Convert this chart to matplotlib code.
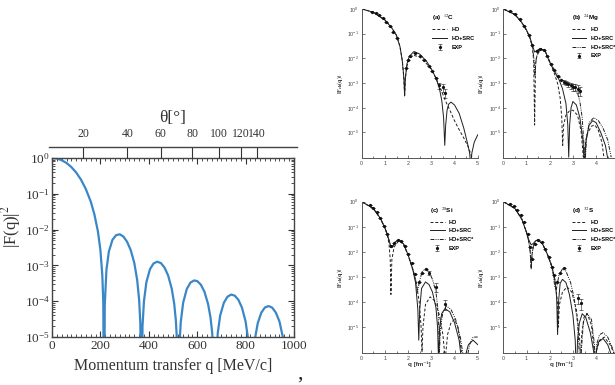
import matplotlib
matplotlib.use("Agg")
import matplotlib.pyplot as plt
from matplotlib.ticker import MultipleLocator, FixedLocator, LogLocator, NullFormatter, NullLocator

plt.rcParams['font.family'] = 'serif'
plt.rcParams['font.serif'] = ['Liberation Serif', 'DejaVu Serif']
plt.rcParams['mathtext.fontset'] = 'stix'

# ---- left panel: |F(q)|^2 vs momentum transfer (MeV/c) ----
q_mev = [0, 20, 40, 60, 80, 100, 120, 140, 160, 175, 190, 200, 208, 212, 215,
         218, 225, 235, 250, 265, 280, 295, 310, 325, 340, 352, 360, 365, 370,
         374, 380, 390, 405, 420, 435, 450, 465, 480, 495, 505, 512, 517, 522,
         526, 532, 542, 557, 572, 587, 600, 615, 630, 645, 655, 662, 668, 673,
         678, 685, 695, 710, 725, 740, 755, 770, 785, 800, 810, 824,
         840, 850, 865, 880, 895, 910, 925, 940, 955, 965]
f2 = [1.0, 0.966, 0.868, 0.725, 0.558, 0.392, 0.247, 0.135, 0.061, 0.027, 8.7e-3, 2.7e-3, 5.2e-4, 8.9e-5, 1e-8,
      7.8e-5, 7.6e-4, 2.44e-3, 5.2e-3, 7.0e-3, 7.4e-3, 6.4e-3, 4.6e-3, 2.7e-3, 1.18e-3, 3.9e-4, 1.1e-4, 2.5e-5, 1e-8,
      2.0e-5, 1.0e-4, 3.4e-4, 7.9e-4, 1.14e-3, 1.27e-3, 1.16e-3, 8.7e-4, 5.2e-4, 2.2e-4, 8.5e-5, 2.8e-5, 6.5e-6, 1e-8,
      4.8e-6, 2.6e-5, 9.1e-5, 2.2e-4, 3.3e-4, 3.8e-4, 3.65e-4, 2.9e-4, 1.84e-4, 8.3e-5, 3.5e-5, 1.3e-5, 2.7e-6, 1e-8,
      2.3e-6, 1.3e-5, 4.0e-5, 9.0e-5, 1.33e-4, 1.53e-4, 1.43e-4, 1.1e-4, 6.6e-5, 2.7e-5, 9.1e-6, 1e-8,
      1.0e-5, 2.4e-5, 4.8e-5, 6.7e-5, 7.3e-5, 6.6e-5, 4.8e-5, 2.7e-5, 9.2e-6, 2.2e-6]

theta_deg = [20, 40, 60, 80, 100, 120, 140]
theta_q = [129, 311, 449, 580, 689, 780, 846]

# ---- right panels: charge form factors (q in fm^-1) ----
c12_q_ho = [0, 0.5, 1.0, 1.3, 1.5, 1.65, 1.75, 1.82, 1.85, 1.88, 1.95, 2.05, 2.2, 2.5, 2.8, 3.0, 3.2, 3.4, 3.6, 3.8, 4.0, 4.2, 4.4, 4.6, 4.75]
c12_ho = [1, 0.74, 0.36, 0.17, 0.085, 0.03, 8e-3, 1.5e-3, 3e-4, 1.5e-3, 5e-3, 9e-3, 1.35e-2, 1.15e-2, 6e-3, 3.5e-3, 1.6e-3, 6e-4, 2e-4, 8e-5, 3e-5, 1.3e-5, 6e-6, 2.5e-6, 1e-6]
c12_q_src = [0, 0.5, 1.0, 1.3, 1.5, 1.65, 1.75, 1.82, 1.85, 1.88, 1.95, 2.05, 2.25, 2.5, 2.8, 3.0, 3.2, 3.35, 3.45, 3.53,
             3.58, 3.62, 3.68, 3.75, 3.85, 4.0, 4.2, 4.4, 4.55, 4.65, 4.7, 4.75, 4.85, 5.0]
c12_src = [1, 0.74, 0.36, 0.17, 0.085, 0.03, 8e-3, 1.5e-3, 3e-4, 1.5e-3, 6e-3, 1.2e-2, 1.9e-2, 1.5e-2, 7.5e-3, 3.8e-3, 1.6e-3, 6e-4, 2e-4, 4e-5,
           3e-6, 2e-5, 8e-5, 1.4e-4, 1.7e-4, 1.3e-4, 6e-5, 1.5e-5, 4e-6, 1.5e-6, 5e-7, 1.5e-6, 4e-6, 8e-6]
c12_exp_q = [0.45, 0.6, 0.75, 0.9, 1.05, 1.2, 1.35, 1.5, 1.9, 2.0, 2.1, 2.3, 2.5, 2.7, 2.9, 3.05, 3.2, 3.35, 3.5, 3.6]
c12_exp = [0.78, 0.66, 0.55, 0.42, 0.3, 0.2, 0.12, 0.07, 4e-3, 9e-3, 1.3e-2, 1.6e-2, 1.3e-2, 9e-3, 5e-3, 3e-3, 1.6e-3, 8e-4, 7e-4, 4e-4]
c12_err = [0, 0, 0, 0, 0, 0, 0, 0, 0, 0, 0, 0, 0, 0, 0, 0, 0, 2e-4, 2.5e-4, 1.5e-4]

mg_q_ho = [0, 0.5, 0.8, 1.0, 1.15, 1.25, 1.31, 1.35, 1.39, 1.45, 1.6, 1.8, 2.0, 2.2, 2.35, 2.45, 2.52, 2.56, 2.6, 2.7,
           2.85, 3.0, 3.2, 3.35, 3.45, 3.6, 3.8, 3.95, 4.1, 4.25, 4.35]
mg_ho = [1, 0.6, 0.28, 0.14, 0.065, 0.03, 8e-3, 2e-5, 6e-3, 1.3e-2, 2.3e-2, 2e-2, 7e-3, 2.5e-3, 9e-4, 2.5e-4, 4e-5, 3e-6, 2e-5, 5e-5,
         7.5e-5, 8e-5, 5e-5, 1.2e-5, 1e-6, 8e-6, 1.8e-5, 2e-5, 1.2e-5, 4e-6, 8e-7]
mg_q_src = [0, 0.5, 0.8, 1.0, 1.15, 1.25, 1.35, 1.45, 1.6, 1.8, 2.0, 2.2, 2.4, 2.55, 2.7, 2.78, 2.82, 2.86, 2.92, 3.0,
            3.15, 3.3, 3.43, 3.5, 3.57, 3.7, 3.85, 4.0, 4.2, 4.4, 4.55]
mg_src = [1, 0.6, 0.28, 0.14, 0.07, 0.035, 0.018, 0.021, 0.025, 0.02, 7e-3, 3e-3, 1.4e-3, 6e-4, 1.5e-4, 2e-5, 1e-6, 2e-5, 1e-4, 1.8e-4,
          1.3e-4, 4e-5, 5e-6, 5e-7, 5e-6, 2e-5, 3e-5, 2.5e-5, 1e-5, 3e-6, 5e-7]
mg_q_srcs = [0, 0.5, 0.8, 1.0, 1.15, 1.25, 1.32, 1.36, 1.42, 1.5, 1.65, 1.8, 2.0, 2.2, 2.4, 2.6, 2.8, 3.0, 3.2, 3.3,
             3.4, 3.47, 3.52, 3.58, 3.7, 3.9, 4.1, 4.3, 4.5, 4.65]
mg_srcs = [1, 0.6, 0.28, 0.14, 0.065, 0.03, 1e-2, 2e-3, 1e-2, 0.02, 0.025, 0.02, 7.5e-3, 3.5e-3, 1.8e-3, 1.2e-3, 9e-4, 8e-4, 4e-4, 1.8e-4,
           4e-5, 4e-6, 4e-7, 5e-6, 2.5e-5, 4e-5, 3e-5, 1.5e-5, 5e-6, 1e-6]
mg_exp_q = [0.3, 0.5, 0.7, 0.9, 1.1, 1.25, 1.45, 1.6, 1.75, 1.9, 2.05, 2.2, 2.35, 2.5, 2.6, 2.7, 2.8, 2.9, 3.0, 3.1, 3.2, 3.3]
mg_exp = [0.82, 0.6, 0.38, 0.2, 0.09, 0.035, 0.02, 0.024, 0.022, 0.013, 6e-3, 3.5e-3, 2e-3, 1.3e-3, 1.1e-3, 1e-3, 9e-4, 8e-4, 7e-4, 7e-4, 6e-4, 5e-4]
mg_err = [0, 0, 0, 0, 0, 0, 0, 0, 0, 0, 0, 0, 0, 0, 2e-4, 2e-4, 2e-4, 2e-4, 2e-4, 2e-4, 2e-4, 2e-4]

si_q_ho = [0, 0.5, 0.8, 1.0, 1.1, 1.18, 1.23, 1.26, 1.3, 1.4, 1.6, 1.8, 2.0, 2.2, 2.35, 2.48, 2.56, 2.6, 2.64, 2.75,
           2.95, 3.15, 3.35, 3.5, 3.6, 3.7, 3.85, 4.0, 4.15, 4.3]
si_ho = [1, 0.54, 0.22, 0.09, 0.05, 0.02, 5e-3, 2e-4, 5e-3, 0.016, 0.028, 0.02, 7.5e-3, 2e-3, 6e-4, 1e-4, 1e-5, 1e-6, 1e-5, 8e-5,
         1.6e-4, 1.1e-4, 3e-5, 5e-6, 5e-7, 5e-6, 1.5e-5, 2e-5, 1e-5, 1e-6]
si_q_src = [0, 0.5, 0.8, 1.0, 1.1, 1.2, 1.26, 1.32, 1.45, 1.6, 1.8, 2.0, 2.2, 2.32, 2.42, 2.46, 2.5, 2.58, 2.75, 2.9,
            3.05, 3.2, 3.27, 3.31, 3.36, 3.45, 3.6, 3.8, 4.0, 4.2, 4.3, 4.36, 4.42, 4.6, 4.8, 5.0]
si_src = [1, 0.54, 0.22, 0.09, 0.05, 0.025, 0.015, 0.016, 0.025, 0.03, 0.021, 7.5e-3, 2e-3, 6e-4, 5e-5, 3e-6, 5e-5, 3.5e-4, 6.3e-4, 5e-4,
          2.5e-4, 6e-5, 1e-5, 5e-7, 1e-5, 3.5e-5, 5.4e-5, 4e-5, 1.5e-5, 3e-6, 5e-7, 1e-7, 5e-7, 2e-6, 3e-6, 2e-6]
si_q_srcs = [0, 0.5, 0.8, 1.0, 1.1, 1.2, 1.26, 1.32, 1.45, 1.6, 1.8, 2.0, 2.2, 2.32, 2.4, 2.48, 2.6, 2.75, 2.9, 3.05,
             3.2, 3.3, 3.35, 3.4, 3.5, 3.65, 3.85, 4.05, 4.25, 4.4, 4.47, 4.53, 4.65, 4.8, 5.0]
si_srcs = [1, 0.54, 0.22, 0.09, 0.05, 0.025, 0.015, 0.016, 0.025, 0.03, 0.021, 7.5e-3, 2.2e-3, 8e-4, 2.5e-4, 6e-4, 1.6e-3, 2.1e-3, 1.6e-3, 8e-4,
           2.5e-4, 4e-5, 1e-6, 1e-5, 4e-5, 7e-5, 5e-5, 2e-5, 4e-6, 5e-7, 1e-7, 5e-7, 2e-6, 4e-6, 4e-6]
si_exp_q = [0.35, 0.5, 0.65, 0.8, 0.95, 1.1, 1.25, 1.4, 1.55, 1.7, 1.85, 2.0, 2.15, 2.3, 2.45, 2.6, 2.75, 2.9, 3.2, 3.6]
si_exp = [0.75, 0.55, 0.38, 0.22, 0.11, 0.05, 0.017, 0.022, 0.03, 0.027, 0.017, 8e-3, 3.5e-3, 1.3e-3, 6e-4, 1.4e-3, 2e-3, 1.5e-3, 4e-4, 8.5e-5]
si_err = [0, 0, 0, 0, 0, 0, 0, 0, 0, 0, 0, 0, 0, 0, 0, 0, 0, 3e-4, 1.5e-4, 3.5e-5]

s_q_ho = [0, 0.5, 0.8, 1.0, 1.1, 1.16, 1.2, 1.24, 1.3, 1.4, 1.5, 1.7, 1.9, 2.1, 2.25, 2.33, 2.37, 2.42, 2.55, 2.75,
          2.95, 3.15, 3.28, 3.33, 3.38, 3.48, 3.62, 3.8, 3.92, 3.96, 4.0, 4.15, 4.35, 4.6, 4.8]
s_ho = [1, 0.54, 0.2, 0.06, 0.025, 0.01, 2e-3, 8e-3, 0.018, 0.027, 0.03, 0.02, 8e-3, 2.5e-3, 6e-4, 1e-4, 1e-5, 8e-5, 2.5e-4, 4e-4,
        2.5e-4, 5e-5, 5e-6, 5e-7, 5e-6, 2.5e-5, 3.4e-5, 1.2e-5, 1e-6, 1e-7, 1e-6, 3e-6, 4e-6, 2e-6, 8e-7]
s_q_src = [0, 0.5, 0.8, 1.0, 1.1, 1.2, 1.3, 1.4, 1.5, 1.7, 1.9, 2.1, 2.22, 2.3, 2.34, 2.38, 2.45, 2.55, 2.7, 2.85,
           3.0, 3.1, 3.15, 3.2, 3.28, 3.4, 3.55, 3.75, 3.9, 3.95, 4.0, 4.1, 4.3, 4.5, 4.7, 4.9]
s_src = [1, 0.54, 0.2, 0.06, 0.03, 0.019, 0.022, 0.028, 0.03, 0.02, 8e-3, 2.5e-3, 8e-4, 1.5e-4, 5e-6, 1e-4, 5.5e-4, 8e-4, 6e-4, 2e-4,
         3e-5, 3e-6, 1e-7, 3e-6, 1.5e-5, 3.4e-5, 2.5e-5, 6e-6, 1e-6, 1e-7, 1e-6, 2.5e-6, 3.5e-6, 2e-6, 6e-7, 1e-7]
s_q_srcs = [0, 0.5, 0.8, 1.0, 1.1, 1.16, 1.2, 1.24, 1.3, 1.4, 1.5, 1.7, 1.9, 2.05, 2.15, 2.22, 2.28, 2.4, 2.55, 2.7,
            2.9, 3.05, 3.2, 3.27, 3.31, 3.36, 3.45, 3.6, 3.8, 3.93, 3.97, 4.02, 4.15, 4.3, 4.5, 4.7, 4.9]
s_srcs = [1, 0.54, 0.2, 0.06, 0.025, 0.01, 2.5e-3, 8e-3, 0.018, 0.027, 0.03, 0.02, 8e-3, 3.5e-3, 1.3e-3, 4e-4, 3e-4, 1.2e-3, 2.1e-3, 1.7e-3,
          6e-4, 1.5e-4, 1.5e-5, 1e-6, 1e-7, 1e-6, 1.5e-5, 3.5e-5, 2e-5, 2e-6, 1e-7, 2e-6, 5e-6, 6e-6, 4e-6, 1.5e-6, 4e-7]
s_exp_q = [0.3, 0.45, 0.6, 0.75, 0.9, 1.05, 1.15, 1.25, 1.35, 1.5, 1.65, 1.8, 1.95, 2.1, 2.2, 2.3, 2.45, 2.6, 3.2, 3.35]
s_exp = [0.83, 0.65, 0.46, 0.3, 0.15, 0.05, 0.015, 5e-3, 0.02, 0.03, 0.025, 0.013, 6e-3, 2.5e-3, 1.2e-3, 6e-4, 1.5e-3, 2.2e-3, 1.4e-4, 9e-5]
s_err = [0, 0, 0, 0, 0, 0, 0, 0, 0, 0, 0, 0, 0, 0, 0, 0, 0, 0, 6e-5, 4e-5]

W, H = 615, 385
fig = plt.figure(figsize=(W / 100, H / 100), dpi=100)

def frac(x0, y0, x1, y1):
    # pixel box -> figure fraction [left, bottom, width, height]
    return [x0 / W, 1 - y1 / H, (x1 - x0) / W, (y1 - y0) / H]

# main plot
ax = fig.add_axes(frac(52, 158, 294, 337))
ax.plot(q_mev, f2, color='#3a87c8', lw=1.6)
ax.set_yscale('log')
ax.set_xlim(0, 1000)
ax.set_ylim(1e-5, 1)
ax.xaxis.set_major_locator(MultipleLocator(200))
ax.xaxis.set_minor_locator(MultipleLocator(20))
ax.yaxis.set_major_locator(LogLocator(base=10, numticks=10))
ax.yaxis.set_minor_locator(LogLocator(base=10, subs=range(2, 10), numticks=20))
ax.yaxis.set_minor_formatter(NullFormatter())
ax.tick_params(which='both', direction='in', top=True, right=True, labelsize=9.5, colors='#333333')
ax.tick_params(which='major', length=4, width=0.8)
ax.tick_params(which='minor', length=2.2, width=0.6)
ax.tick_params(axis='x', pad=2.5)
ax.tick_params(axis='y', pad=1.5)
for s in ax.spines.values():
    s.set_color('#444444')
    s.set_linewidth(1.0)
ax.set_xlabel('Momentum transfer q [MeV/c]', fontsize=11.5, color='#333333', labelpad=4)
ax.set_ylabel('|F(q)|$^2$', fontsize=12, color='#333333')
ax.yaxis.set_label_coords(-0.118, 0.62)

# scattering-angle axis above the plot
axt = fig.add_axes(frac(49, 146.5, 297, 146.6))
axt.set_xlim(-12.4, 1012.4)
axt.patch.set_visible(False)
for side in ['top', 'left', 'right']:
    axt.spines[side].set_visible(False)
axt.spines['bottom'].set_color('#444444')
axt.spines['bottom'].set_linewidth(1.0)
axt.yaxis.set_visible(False)
axt.set_xticks(theta_q)
axt.set_xticklabels([str(t) for t in theta_deg])
axt.tick_params(axis='x', direction='out', length=8, width=0.8, bottom=True, top=True,
                labelbottom=False, labeltop=True, labelsize=8.5, pad=-3, colors='#333333')
for t in axt.xaxis.get_major_ticks():
    t.tick2line.set_visible(False)
axt.xaxis.set_label_position('top')
axt.set_xlabel('θ[°]', fontsize=12.5, color='#333333', labelpad=4)

fig.text(300 / W, 1 - 374 / H, ',', fontsize=16, color='#222222', ha='center', va='center')

# scanned comparison panels
ho_ls = (0, (3, 2))
srcs_ls = (0, (4, 1.2, 1, 1.2, 1, 1.2))
sans = ['Liberation Sans', 'DejaVu Sans']

def panel(box, tag, curves, eq, ev, eerr, xlabel, xmax_label):
    a = fig.add_axes(frac(*box))
    for q, v, ls, lab in curves:
        a.plot(q, v, color='#1e1e1e', lw=0.7, ls=ls, label=lab)
    a.errorbar(eq, ev, yerr=eerr, fmt='o', ms=1.3, color='#111111', elinewidth=0.4,
               capsize=1.2, capthick=0.4, label='EXP')
    a.set_yscale('log')
    a.set_xlim(0, 5)
    a.set_ylim(9e-7, 1)
    a.yaxis.set_major_locator(FixedLocator([1, 1e-1, 1e-2, 1e-3, 1e-4, 1e-5]))
    a.yaxis.set_minor_locator(NullLocator())
    a.yaxis.set_minor_formatter(NullFormatter())
    a.xaxis.set_major_locator(FixedLocator(list(range(0, xmax_label + 1))))
    a.xaxis.set_minor_locator(MultipleLocator(0.5))
    a.spines['top'].set_visible(False)
    a.spines['right'].set_visible(False)
    for s in ['left', 'bottom']:
        a.spines[s].set_color('#555555')
        a.spines[s].set_linewidth(0.7)
    a.tick_params(which='both', direction='in', labelsize=3.8, colors='#444444', pad=2)
    a.tick_params(which='major', length=2, width=0.5)
    a.tick_params(which='minor', length=1.5, width=0.5)
    for lbl in a.get_xticklabels() + a.get_yticklabels():
        lbl.set_family(sans)
    a.set_ylabel(r'$\mathbf{|F_{ch}(q)|}$', fontsize=4.4, labelpad=1.5, color='#333333')
    if xlabel:
        a.set_xlabel('q [fm⁻¹]', fontsize=4.5, family=sans, fontweight='bold', labelpad=0.5, color='#333333')
    leg = a.legend(loc='upper right', bbox_to_anchor=(1.0, 1.0), frameon=False, title=tag,
                   prop={'family': sans, 'size': 4, 'weight': 'bold'}, handlelength=2.6,
                   labelspacing=0.7, borderaxespad=0.2, alignment='left')
    leg.get_title().set_fontsize(4.5)
    leg.get_title().set_family(sans)
    leg.get_title().set_fontweight('bold')
    return a

panel((361.7, 9, 477.7, 158.3), '(a)  $^{12}$C',
      [(c12_q_ho, c12_ho, ho_ls, 'HO'), (c12_q_src, c12_src, '-', 'HO+SRC')],
      c12_exp_q, c12_exp, c12_err, False, 5)
panel((503.3, 9, 619.3, 158.3), '(b)  $^{24}$Mg',
      [(mg_q_ho, mg_ho, ho_ls, 'HO'), (mg_q_src, mg_src, '-', 'HO+SRC'),
       (mg_q_srcs, mg_srcs, srcs_ls, 'HO+SRC*')],
      mg_exp_q, mg_exp, mg_err, False, 4)
panel((361.7, 201.7, 477.7, 353.3), '(c)  $^{28}$Si',
      [(si_q_ho, si_ho, ho_ls, 'HO'), (si_q_src, si_src, '-', 'HO+SRC'),
       (si_q_srcs, si_srcs, srcs_ls, 'HO+SRC*')],
      si_exp_q, si_exp, si_err, True, 5)
panel((503.3, 201.7, 619.3, 353.3), '(d)  $^{32}$S',
      [(s_q_ho, s_ho, ho_ls, 'HO'), (s_q_src, s_src, '-', 'HO+SRC'),
       (s_q_srcs, s_srcs, srcs_ls, 'HO+SRC*')],
      s_exp_q, s_exp, s_err, True, 4)

fig.savefig('out.png', dpi=100)
